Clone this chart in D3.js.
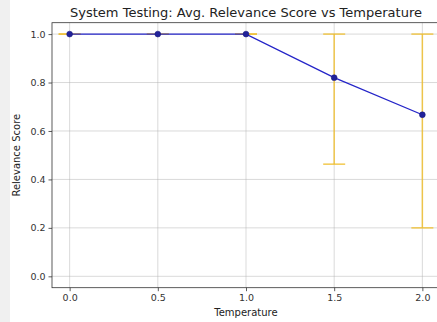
<!DOCTYPE html>
<html><head><meta charset="utf-8">
<script src="https://cdn.jsdelivr.net/npm/d3@7"></script>
<style>
body{margin:0;background:#fff;}
svg{display:block;font-family:"DejaVu Sans",sans-serif;}
</style></head>
<body><svg id="c" width="437" height="322"></svg>
<script>
const temperatures = [0.0, 0.5, 1.0, 1.5, 2.0];
const meanScores = [1.0, 1.0, 1.0, 0.82, 0.667];
const errLow = [1.0, 1.0, 1.0, 0.463, 0.2];
const errHigh = [1.0, 1.0, 1.0, 1.0, 1.0];
const xTicks = [0.0, 0.5, 1.0, 1.5, 2.0];
const yTicks = [0.0, 0.2, 0.4, 0.6, 0.8, 1.0];

const svg = d3.select("#c");
const L = 52, R = 440, T = 22.7, B = 287.7;
svg.append("rect").attr("x",0).attr("y",0).attr("width",10).attr("height",322).attr("fill","#f0f0f0");

const x = d3.scaleLinear().domain([-0.1, 2.1]).range([L, R]);
const y = d3.scaleLinear().domain([-0.047, 1.047]).range([B, T]);

const g = svg.append("g");
g.selectAll(".gx").data(xTicks).join("line")
  .attr("x1", d=>x(d)).attr("x2", d=>x(d)).attr("y1", T).attr("y2", B)
  .attr("stroke", "#b0b0b0").attr("stroke-width", 0.8).attr("stroke-opacity", 0.6);
g.selectAll(".gy").data(yTicks).join("line")
  .attr("y1", d=>y(d)).attr("y2", d=>y(d)).attr("x1", L).attr("x2", R)
  .attr("stroke", "#b0b0b0").attr("stroke-width", 0.8).attr("stroke-opacity", 0.6);

const xa = svg.append("g").attr("transform", `translate(0,${B})`)
  .call(d3.axisBottom(x).tickValues(xTicks).tickFormat(d3.format(".1f")).tickSize(3.5).tickPadding(3));
const ya = svg.append("g").attr("transform", `translate(${L},0)`)
  .call(d3.axisLeft(y).tickValues(yTicks).tickFormat(d3.format(".1f")).tickSize(3.5).tickPadding(3));
[xa, ya].forEach(a => {
  a.select(".domain").remove();
  a.selectAll("line").attr("stroke", "#333").attr("stroke-width", 0.8);
  a.selectAll("text").attr("fill", "#333").attr("font-size", "9.5px").attr("font-family", "DejaVu Sans");
});
svg.append("rect").attr("x", L).attr("y", T).attr("width", R-L).attr("height", B-T)
  .attr("fill", "none").attr("stroke", "#333").attr("stroke-width", 0.8);

const data = temperatures.map((t,i)=>({t, m: meanScores[i], lo: errLow[i], hi: errHigh[i]}));
const eb = svg.append("g").attr("stroke", "#f0c030").attr("stroke-opacity", 0.85).attr("stroke-width", 1.5);
eb.selectAll(".v").data(data).join("line")
  .attr("x1", d=>x(d.t)).attr("x2", d=>x(d.t)).attr("y1", d=>y(d.lo)).attr("y2", d=>y(d.hi));
eb.selectAll(".ch").data(data).join("line")
  .attr("x1", d=>x(d.t)-11).attr("x2", d=>x(d.t)+11).attr("y1", d=>y(d.hi)).attr("y2", d=>y(d.hi));
eb.selectAll(".cl").data(data).join("line")
  .attr("x1", d=>x(d.t)-11).attr("x2", d=>x(d.t)+11).attr("y1", d=>y(d.lo)).attr("y2", d=>y(d.lo));

svg.append("path").datum(data)
  .attr("d", d3.line().x(d=>x(d.t)).y(d=>y(d.m)))
  .attr("fill", "none").attr("stroke", "#2424c8").attr("stroke-width", 1.3);
svg.selectAll(".pt").data(data).join("circle")
  .attr("cx", d=>x(d.t)).attr("cy", d=>y(d.m)).attr("r", 2.9)
  .attr("fill", "#22229a").attr("stroke", "#1a1a80").attr("stroke-width", 0.6);

svg.append("text").attr("x", (L+R)/2).attr("y", 17).attr("text-anchor", "middle")
  .attr("font-size", "13px").attr("fill", "#222").text("System Testing: Avg. Relevance Score vs Temperature");
svg.append("text").attr("x", (L+R)/2).attr("y", 316).attr("text-anchor", "middle")
  .attr("font-size", "10px").attr("fill", "#222").text("Temperature");
svg.append("text").attr("transform", `translate(20,${(T+B)/2}) rotate(-90)`).attr("text-anchor", "middle")
  .attr("font-size", "10px").attr("fill", "#222").text("Relevance Score");
</script></body></html>
